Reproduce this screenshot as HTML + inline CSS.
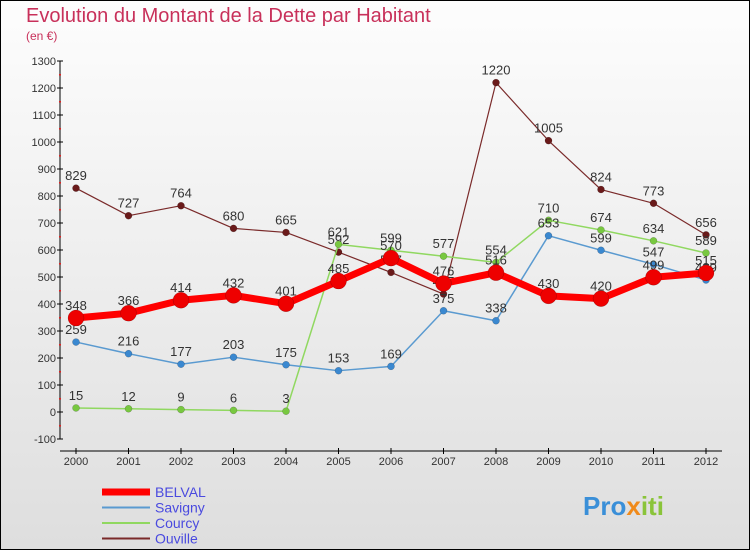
<!DOCTYPE html>
<html><head><meta charset="utf-8"><style>
body{margin:0;width:750px;height:550px;overflow:hidden;font-family:"Liberation Sans",sans-serif}
svg text{font-family:"Liberation Sans",sans-serif}
</style></head><body>
<svg id="c" width="750" height="550" xmlns="http://www.w3.org/2000/svg">
<defs><linearGradient id="bg" x1="0" y1="0" x2="0" y2="1"><stop offset="0" stop-color="#fdfdfd"/><stop offset="1" stop-color="#dedede"/></linearGradient></defs>
<rect x="0.5" y="0.5" width="749" height="549" fill="url(#bg)" stroke="#000"/>
<text x="26" y="22" font-size="20" fill="#c8305a">Evolution du Montant de la Dette par Habitant</text>
<text x="26" y="40" font-size="12" fill="#c8305a">(en €)</text>
<g id="axes"></g><g id="series"></g><g id="legend"></g>
<text x="583" y="515" font-size="26" font-weight="bold" fill="#3a8fd8">Pro<tspan fill="#f08a1a">x</tspan><tspan fill="#8ac43a">iti</tspan></text>
</svg>
<script>
const years=[2000,2001,2002,2003,2004,2005,2006,2007,2008,2009,2010,2011,2012];
const yTicks=[-100,0,100,200,300,400,500,600,700,800,900,1000,1100,1200,1300];
const belval=[348,366,414,432,401,485,570,476,516,430,420,499,515];
const savigny=[259,216,177,203,175,153,169,375,338,653,599,547,489];
const courcy=[15,12,9,6,3,621,599,577,554,710,674,634,589];
const ouville=[829,727,764,680,665,592,517,437,1220,1005,824,773,656];
const NS="http://www.w3.org/2000/svg";
const X=i=>76+i*52.5;
const Y=v=>412-v*0.27;
function mk(t,a,p){const e=document.createElementNS(NS,t);for(const k in a)e.setAttribute(k,a[k]);p.appendChild(e);return e;}
const ax=document.getElementById('axes');
const yl=mk('line',{x1:60,y1:Y(1300),x2:60,y2:Y(-100),stroke:'#000'},ax);


const xl=mk('line',{x1:60,y1:451,x2:722,y2:451,stroke:'#000'},ax);


yTicks.forEach(v=>{
  mk('line',{x1:57,y1:Y(v),x2:63,y2:Y(v),stroke:'#000'},ax);
  if(v<1300) mk('rect',{x:59,y:Y(v+50)-0.5,width:2,height:1.5,fill:'#e02020'},ax);
  const t=mk('text',{x:56,y:Y(v)+4,'font-size':11,'text-anchor':'end',fill:'#333'},ax);
  t.textContent=v;
  
  
});
years.forEach((y,i)=>{
  mk('line',{x1:X(i),y1:448,x2:X(i),y2:454,stroke:'#000'},ax);
  const t=mk('text',{x:X(i),y:465,'font-size':11,'text-anchor':'middle',fill:'#333'},ax);
  t.textContent=y;
  
  
});
const sg=document.getElementById('series');
const defs=[
 {name:'Ouville',d:ouville,c:'#7a2a2a',pt:'#6a1a1a',w:1.2,r:3.5},
 {name:'Courcy',d:courcy,c:'#90d860',pt:'#78c840',w:1.5,r:3.5},
 {name:'Savigny',d:savigny,c:'#5a9ad0',pt:'#3a88d0',w:1.5,r:3.5},
 {name:'BELVAL',d:belval,c:'#ff0000',pt:'#ee0000',w:7,r:8}
];
defs.forEach(s=>{
  const g=mk('g',{},sg);
  
  
  const pl=mk('polyline',{points:s.d.map((v,i)=>X(i)+','+Y(v)).join(' '),fill:'none',stroke:s.c,'stroke-width':s.w,'stroke-linejoin':'round'},g);
  
  
  s.d.forEach((v,i)=>{
    const p=mk('circle',{cx:X(i),cy:Y(v),r:s.r,fill:s.pt,stroke:'rgba(0,0,0,0.3)','stroke-width':0.5},g);
    
    
    const t=mk('text',{x:X(i),y:Y(v)-8,'font-size':13,'text-anchor':'middle',fill:'#333'},g);
    t.textContent=v;
    
    
  });
});
const lg=document.getElementById('legend');
[['BELVAL','#ff0000',7],['Savigny','#5a9ad0',2],['Courcy','#90d860',2],['Ouville','#7a2a2a',2]].forEach((l,i)=>{
  const y=492+i*15.5;
  const g=mk('g',{},lg);
  
  
  mk('line',{x1:102,y1:y,x2:150,y2:y,stroke:l[1],'stroke-width':l[2]},g);
  const t=mk('text',{x:155,y:y+5,'font-size':14,fill:'#4a4adf'},g);
  t.textContent=l[0];
});
</script>
</body></html>
